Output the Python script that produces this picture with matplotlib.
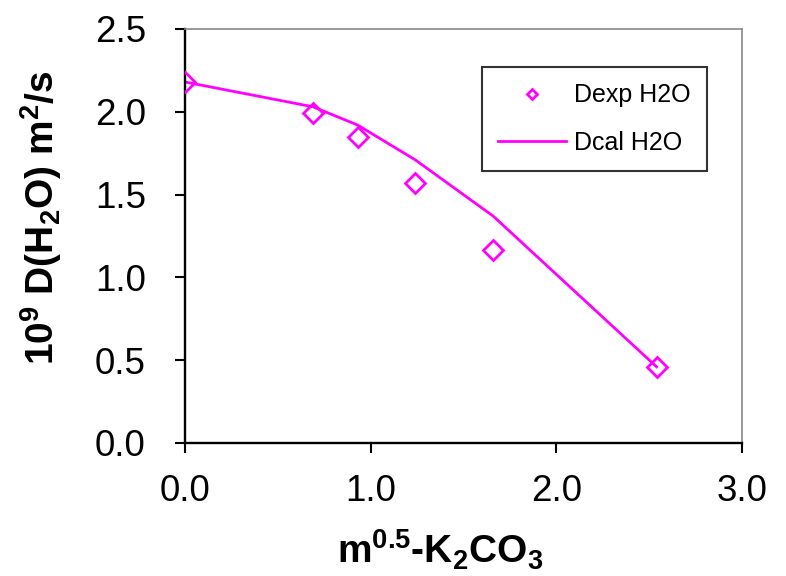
import matplotlib
matplotlib.use("Agg")
import matplotlib.pyplot as plt
from matplotlib.ticker import FormatStrFormatter

plt.rcParams['font.family'] = ['Liberation Sans', 'DejaVu Sans']
plt.rcParams['mathtext.fontset'] = 'custom'
plt.rcParams['mathtext.rm'] = 'Liberation Sans:bold'
plt.rcParams['mathtext.it'] = 'Liberation Sans:bold'
plt.rcParams['mathtext.bf'] = 'Liberation Sans:bold'

# data
m_sqrt = [0.0, 0.69, 0.93, 1.24, 1.66, 2.54]
d_exp = [2.18, 1.99, 1.85, 1.57, 1.165, 0.46]
d_cal = [2.18, 2.03, 1.92, 1.71, 1.37, 0.46]
x_ticks = [0.0, 1.0, 2.0, 3.0]
y_ticks = [0.0, 0.5, 1.0, 1.5, 2.0, 2.5]

magenta = '#FF00FF'

fig = plt.figure(figsize=(7.86, 5.76), dpi=100)
ax = fig.add_axes([185 / 786, 1 - 443 / 576, 557 / 786, 414 / 576])

ax.plot(m_sqrt, d_exp, linestyle='none', marker='D', markersize=10,
        markerfacecolor='none', markeredgecolor=magenta, markeredgewidth=2,
        label='Dexp H2O', zorder=3)
ax.plot(m_sqrt, d_cal, color=magenta, linewidth=2, label='Dcal H2O')

ax.set_xlim(0, 3)
ax.set_ylim(0, 2.5)
ax.set_xticks(x_ticks)
ax.set_yticks(y_ticks)
ax.xaxis.set_major_formatter(FormatStrFormatter('%.1f'))
ax.yaxis.set_major_formatter(FormatStrFormatter('%.1f'))
ax.tick_params(axis='both', direction='out', length=7.2, width=1.5,
               labelsize=26.5, colors='black')
ax.tick_params(axis='x', pad=15)
ax.tick_params(axis='y', pad=21)

for s in ['left', 'bottom']:
    ax.spines[s].set_linewidth(1.7)
    ax.spines[s].set_color('black')
for s in ['top', 'right']:
    ax.spines[s].set_linewidth(1.2)
    ax.spines[s].set_color('#888888')

ax.set_xlabel('m$^{0.5}$-K$_2$CO$_3$', fontsize=28, fontweight='bold',
              ha='center', va='center')
ax.xaxis.set_label_coords(0.458, -0.258)
ax.set_ylabel('10$^9$ D(H$_2$O) m$^2$/s', fontsize=28, fontweight='bold',
              ha='center', va='center')
ax.yaxis.set_label_coords(-0.2585, 0.5435)

leg = ax.legend(loc='upper left', bbox_to_anchor=(0.533, 0.908),
                borderaxespad=0, fontsize=18, frameon=True, fancybox=False,
                handlelength=2.7, handletextpad=0.35, labelspacing=0.95,
                borderpad=0.65, markerscale=0.55)
leg.get_frame().set_edgecolor('black')
leg.get_frame().set_linewidth(1.5)

fig.savefig('out.png', dpi=100)
